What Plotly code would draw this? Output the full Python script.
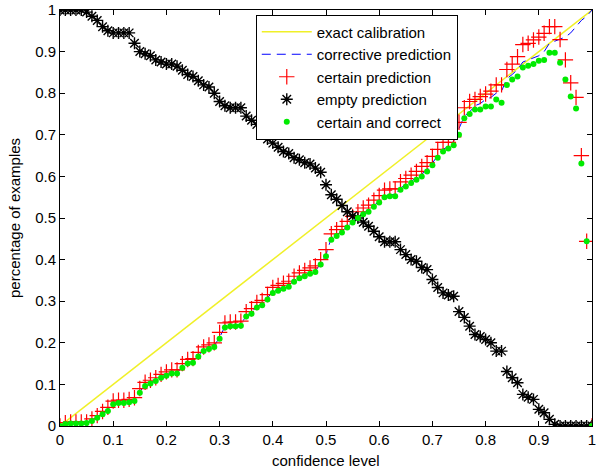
import plotly.graph_objects as go

conf = [i / 100 for i in range(101)]

calib_x = [0, 1]
calib_y = [0, 1]

empty_pred = [1.0, 1.0, 1.0, 1.0, 1.0, 0.995, 0.985, 0.975, 0.96, 0.95,
              0.945, 0.945, 0.945, 0.945, 0.92, 0.90, 0.895, 0.89, 0.88, 0.875,
              0.87, 0.87, 0.865, 0.855, 0.845, 0.84, 0.83, 0.82, 0.815, 0.80,
              0.78, 0.77, 0.765, 0.765, 0.765, 0.745, 0.735, 0.725, 0.71, 0.69,
              0.68, 0.67, 0.66, 0.655, 0.645, 0.64, 0.633, 0.63, 0.62, 0.61,
              0.58, 0.556, 0.545, 0.53, 0.515, 0.505, 0.50, 0.49, 0.48, 0.468,
              0.455, 0.443, 0.443, 0.443, 0.424, 0.412, 0.40, 0.396, 0.381, 0.376,
              0.352, 0.333, 0.32, 0.315, 0.312, 0.275, 0.261, 0.24, 0.22, 0.215,
              0.208, 0.20, 0.18, 0.18, 0.131, 0.116, 0.104, 0.076, 0.069, 0.064,
              0.04, 0.032, 0.016, 0.004, 0, 0, 0, 0, 0, 0,
              0]

certain_correct = [0, 0.005, 0.006, 0.006, 0.006, 0.007, 0.012, 0.02, 0.028, 0.036,
                   0.052, 0.055, 0.055, 0.057, 0.06, 0.08, 0.096, 0.102, 0.108, 0.116,
                   0.121, 0.126, 0.126, 0.14, 0.15, 0.152, 0.167, 0.18, 0.185, 0.19,
                   0.21, 0.237, 0.24, 0.24, 0.241, 0.263, 0.27, 0.285, 0.29, 0.304,
                   0.32, 0.325, 0.33, 0.335, 0.347, 0.355, 0.36, 0.366, 0.37, 0.388,
                   0.408, 0.448, 0.457, 0.465, 0.477, 0.489, 0.50, 0.509, 0.515, 0.527,
                   0.537, 0.55, 0.552, 0.552, 0.568, 0.576, 0.584, 0.592, 0.60, 0.612,
                   0.627, 0.645, 0.66, 0.667, 0.675, 0.70, 0.74, 0.75, 0.761, 0.761,
                   0.768, 0.768, 0.785, 0.777, 0.82, 0.833, 0.84, 0.862, 0.866, 0.87,
                   0.878, 0.88, 0.897, 0.897, 0.873, 0.833, 0.792, 0.763, 0.631, 0.444,
                   0]

certain_pred = [0, 0.008, 0.01, 0.01, 0.01, 0.01, 0.017, 0.025, 0.035, 0.045,
                0.06, 0.062, 0.062, 0.064, 0.068, 0.09, 0.105, 0.11, 0.116, 0.124,
                0.13, 0.135, 0.135, 0.15, 0.16, 0.162, 0.177, 0.19, 0.195, 0.20,
                0.225, 0.248, 0.25, 0.25, 0.252, 0.275, 0.282, 0.297, 0.302, 0.316,
                0.333, 0.338, 0.343, 0.348, 0.36, 0.368, 0.374, 0.38, 0.385, 0.40,
                0.424, 0.462, 0.472, 0.48, 0.492, 0.504, 0.515, 0.524, 0.531, 0.543,
                0.554, 0.567, 0.57, 0.57, 0.587, 0.595, 0.603, 0.612, 0.624, 0.633,
                0.648, 0.665, 0.682, 0.682, 0.695, 0.73, 0.765, 0.78, 0.785, 0.792,
                0.798, 0.805, 0.82, 0.82, 0.857, 0.87, 0.888, 0.917, 0.92, 0.928,
                0.935, 0.944, 0.96, 0.96, 0.929, 0.88, 0.825, 0.79, 0.65, 0.444,
                0]

corrective_pred = [0, 0.006, 0.007, 0.007, 0.007, 0.008, 0.013, 0.021, 0.03, 0.038,
                   0.054, 0.057, 0.057, 0.059, 0.062, 0.083, 0.098, 0.104, 0.11, 0.118,
                   0.123, 0.128, 0.128, 0.142, 0.152, 0.155, 0.17, 0.182, 0.187, 0.193,
                   0.213, 0.239, 0.242, 0.242, 0.244, 0.265, 0.273, 0.288, 0.293, 0.307,
                   0.323, 0.328, 0.333, 0.338, 0.35, 0.358, 0.363, 0.369, 0.373, 0.39,
                   0.412, 0.452, 0.46, 0.468, 0.48, 0.492, 0.503, 0.512, 0.518, 0.53,
                   0.54, 0.553, 0.556, 0.556, 0.572, 0.58, 0.588, 0.596, 0.605, 0.617,
                   0.632, 0.65, 0.665, 0.672, 0.685, 0.715, 0.745, 0.755, 0.77, 0.775,
                   0.785, 0.79, 0.80, 0.805, 0.835, 0.845, 0.857, 0.875, 0.88, 0.885,
                   0.89, 0.90, 0.92, 0.925, 0.93, 0.935, 0.945, 0.96, 0.975, 0.985,
                   1.0]

tick_vals = [0, 0.1, 0.2, 0.3, 0.4, 0.5, 0.6, 0.7, 0.8, 0.9, 1]
tick_text = ["0", "0.1", "0.2", "0.3", "0.4", "0.5", "0.6", "0.7", "0.8", "0.9", "1"]

FONT = "Liberation Sans, Arial, sans-serif"

fig = go.Figure()

fig.add_trace(go.Scatter(x=calib_x, y=calib_y, mode="lines", name="exact calibration",
                         line=dict(color="rgb(240,240,40)", width=1.5), legendgroup="a"))
fig.add_trace(go.Scatter(x=conf, y=corrective_pred, mode="lines", name="corrective prediction",
                         line=dict(color="rgb(0,0,255)", width=1, dash="9px,6px"), legendgroup="b"))
fig.add_trace(go.Scatter(x=conf, y=certain_pred, mode="markers", name="certain prediction",
                         marker=dict(symbol="cross-thin-open", size=11, color="red",
                                     line=dict(color="red", width=1.2)),
                         legendgroup="c"))
fig.add_trace(go.Scatter(x=conf, y=empty_pred, mode="markers", name="empty prediction",
                         marker=dict(symbol="asterisk-open", size=10, color="black",
                                     line=dict(color="black", width=1.4)),
                         legendgroup="d"))
fig.add_trace(go.Scatter(x=conf, y=certain_correct, mode="markers", name="certain and correct",
                         marker=dict(symbol="circle", size=6, color="rgb(0,235,0)"),
                         legendgroup="e"))

axis_common = dict(range=[0, 1], tickvals=tick_vals, ticktext=tick_text, ticks="inside", ticklen=5,
                   tickcolor="black", showline=True, linecolor="black", linewidth=1, mirror="ticks",
                   showgrid=False, zeroline=False, automargin=False,
                   tickfont=dict(family=FONT, size=15, color="black"))

fig.update_xaxes(**axis_common)
fig.update_yaxes(**axis_common)

PLOT_H = 416
PLOT_W = 532
fig.add_annotation(text="confidence level", xref="paper", yref="paper", x=0.5, y=-(461 - 426.5) / PLOT_H,
                   xanchor="center", yanchor="middle", showarrow=False,
                   font=dict(family=FONT, size=15, color="black"))
fig.add_annotation(text="percentage of examples", xref="paper", yref="paper", x=-(60 - 14) / PLOT_W, y=0.5,
                   xanchor="center", yanchor="middle", textangle=-90, showarrow=False,
                   font=dict(family=FONT, size=15, color="black"))

fig.update_layout(
    width=600, height=468,
    margin=dict(l=60, r=8, t=10, b=42),
    paper_bgcolor="white", plot_bgcolor="white",
    font=dict(family=FONT, size=15, color="black"),
    legend=dict(x=0.368, y=(426.5 - 15) / PLOT_H, xanchor="left", yanchor="top", bgcolor="white",
                bordercolor="black", borderwidth=1, traceorder="grouped", tracegroupgap=0,
                itemwidth=50, font=dict(family=FONT, size=15, color="black")),
)

fig.write_html("out.html", config={"displayModeBar": False},
               post_script="document.body.style.margin='0';")
